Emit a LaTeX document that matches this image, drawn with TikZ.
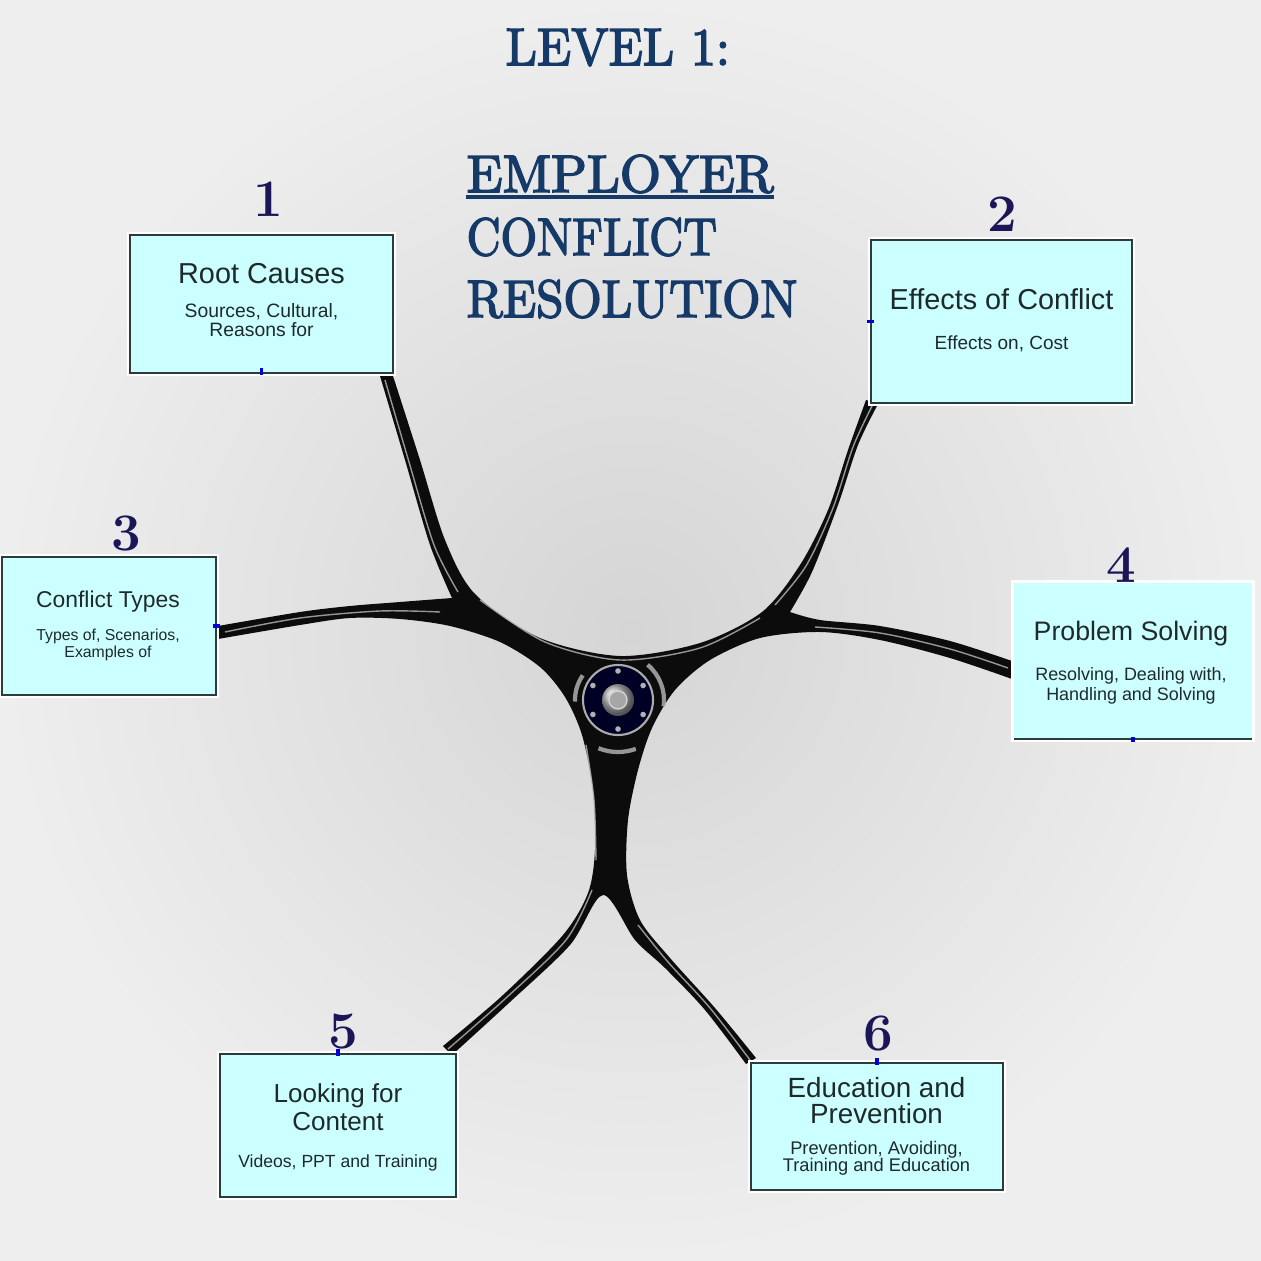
\documentclass[tikz,border=0pt]{standalone}
\usepackage{fontspec}
\usepackage{graphicx}
\newfontfamily\boxfont{Liberation Sans}
\newfontfamily\titlefont{lmroman10-regular.otf}[FakeBold=3]
\definecolor{panelfill}{HTML}{CCFFFF}
\definecolor{paneldraw}{HTML}{2E3B3B}
\definecolor{titleblue}{HTML}{163A68}
\definecolor{numnavy}{HTML}{1B1657}
\definecolor{inktext}{HTML}{1E2A2A}
\definecolor{bgin}{HTML}{D5D5D5}
\definecolor{bgout}{HTML}{EEEEEE}
\definecolor{chairblack}{HTML}{0C0C0C}
\tikzset{
  panel/.style={draw=paneldraw, line width=0.6pt, fill=panelfill, inner sep=0pt, outer sep=0pt,
    preaction={draw=white, line width=1.8pt}},
  hd/.style={anchor=base, inner sep=0pt, text=inktext, font=\boxfont\fontsize{#1}{#1}\selectfont},
  num/.style={anchor=base, inner sep=0pt, text=numnavy, font=\bfseries\fontsize{15}{15}\selectfont},
  ttl/.style={anchor=base west, inner sep=0pt, text=titleblue, font=\titlefont\fontsize{15}{15}\selectfont},
  uline/.style={draw=titleblue, line width=1pt},
  chair/.style={fill=chairblack},
  gloss/.style={draw=gray!55, line width=0.4pt, opacity=0.8},
  pin/.style={draw=blue!85!black, line width=1pt}
}
\begin{document}
\begin{tikzpicture}[x=0.01cm, y=-0.01cm]
\useasboundingbox (0,0) rectangle (1261,1261);
\shade[inner color=bgin, outer color=bgout] (0,0) rectangle (1261,1261);

% title
\node[ttl] (t1) at (505,65) {\scalebox{.95}[1]{LEVEL 1:}};
\node[ttl] (t2) at (466,192) {EMPLOYER};
\node[ttl] (t3) at (466,255) {\scalebox{.89}[1]{CONFLICT}};
\node[ttl] (t4) at (466,317) {\scalebox{.93}[1]{RESOLUTION}};
\draw[uline] ([yshift=-1.4pt]t2.base west) -- ([yshift=-1.4pt]t2.base east);

% chair base
\coordinate (hub) at (618,700);
\fill[chair] plot[smooth] coordinates {(380,376) (405,460) (430,545) (452,598)}
  -- plot[smooth] coordinates {(452,598) (400,602) (350,606) (300,612) (218,626)}
  -- plot[smooth] coordinates {(218,639) (300,625) (350,618) (400,619) (450,626) (500,642) (540,667) (565,697) (582,735) (593,790) (595,850) (588,893) (563,935) (503,995) (443,1046)}
  -- plot[smooth] coordinates {(452,1055) (510,1002) (570,945) (603,895) (635,940) (665,968) (705,1010) (746,1064)}
  -- plot[smooth] coordinates {(756,1058) (715,1008) (670,958) (640,920) (627,875) (628,820) (638,770) (652,728) (675,690) (710,660) (760,638) (820,632) (880,640) (950,658) (1012,679)}
  -- plot[smooth] coordinates {(1012,661) (950,641) (880,626) (820,620) (790,612)}
  -- plot[smooth] coordinates {(790,612) (812,572) (838,505) (858,445) (878,404)}
  -- plot[smooth] coordinates {(866,400) (848,450) (828,510) (800,565) (762,612) (700,643) (620,656) (540,638) (475,594) (445,540) (420,460) (393,376)}
  -- cycle;
\draw[gloss] plot[smooth] coordinates {(385,380) (409,462) (434,545) (458,592)};
\draw[gloss] plot[smooth] coordinates {(225,632) (300,618) (380,611) (440,612)};
\draw[gloss] plot[smooth] coordinates {(872,406) (853,447) (833,508) (806,566) (775,605)};
\draw[gloss] plot[smooth] coordinates {(1008,668) (950,649) (880,633) (815,627)};
\draw[gloss] plot[smooth] coordinates {(448,1049) (506,998) (566,940) (592,890)};
\draw[gloss] plot[smooth] coordinates {(750,1060) (710,1008) (668,962) (638,925)};
\draw[gloss] plot[smooth] coordinates {(586,745) (594,800) (596,860)};
\draw[gloss] plot[smooth] coordinates {(480,600) (545,642) (620,660) (700,648) (760,618)};
\draw[gloss, line width=1.2pt] (hub) ++(-50:46) arc[start angle=-50, end angle=8, radius=46];
\draw[gloss, line width=1.2pt] (hub) ++(70:52) arc[start angle=70, end angle=112, radius=52];
\draw[gloss, line width=1.2pt] (hub) ++(178:43) arc[start angle=178, end angle=215, radius=43];
\filldraw[fill=black!85!blue, draw=gray!65, line width=0.6pt] (hub) circle (35);
\foreach \a in {30,90,...,330}
  \fill[gray!60] (hub) ++(\a:29) circle (2.8);
\shade[ball color=gray!55] (hub) circle (16);
\filldraw[fill=gray!70, draw=gray!35] (hub) circle (9);

% panels
\node[panel, minimum width=2.63cm, minimum height=1.38cm] (b1) at (261.5,304) {};
\node[panel, minimum width=2.61cm, minimum height=1.63cm] (b2) at (1001.5,321.5) {};
\node[panel, minimum width=2.14cm, minimum height=1.38cm] (b3) at (109,626) {};
\node[panel, draw=none, minimum width=2.38cm, minimum height=1.56cm] (b4) at (1133,661) {};
\draw[draw=paneldraw, line width=0.6pt] (b4.south west) -- (b4.south east);
\node[panel, minimum width=2.36cm, minimum height=1.43cm] (b5) at (338,1125.5) {};
\node[panel, minimum width=2.52cm, minimum height=1.27cm] (b6) at (877,1126.5) {};

\draw[pin] ([yshift=1.5pt]b1.south) -- ([yshift=-0.5pt]b1.south);
\draw[pin] ([xshift=-1pt]b2.west) -- ([xshift=1pt]b2.west);
\draw[pin] ([xshift=-1pt]b3.east) -- ([xshift=1pt]b3.east);
\draw[pin] ([yshift=0.5pt]b4.south) -- ([yshift=-0.8pt]b4.south);
\draw[pin] ([yshift=1.5pt]b5.north) -- ([yshift=-0.5pt]b5.north);
\draw[pin] ([yshift=1.5pt]b6.north) -- ([yshift=-0.5pt]b6.north);

% numbers
\node[num] (n1) at (268,217) {1};
\node[num] (n2) at (1002,232) {2};
\node[num] (n3) at (126,550) {3};
\node[num] (n4) at (1121,582) {4};
\node[num] (n5) at (343,1048) {5};
\node[num] (n6) at (878,1050) {6};

% panel texts
\node[hd=8.2] (h1) at (261.5,284) {Root Causes};
\node[hd=5.5] (s1a) at (261.5,318) {Sources, Cultural,};
\node[hd=5.5] (s1b) at (261.5,337) {Reasons for};
\node[hd=8.2] (h2) at (1001.5,310) {Effects of Conflict};
\node[hd=5.4] (s2a) at (1001.5,350) {Effects on, Cost};
\node[hd=6.5] (h3) at (108,607) {Conflict Types};
\node[hd=4.5] (s3a) at (108,640) {Types of, Scenarios,};
\node[hd=4.5] (s3b) at (108,657) {Examples of};
\node[hd=7.6] (h4) at (1131,640) {Problem Solving};
\node[hd=5.1] (s4a) at (1131,680) {Resolving, Dealing with,};
\node[hd=5.1] (s4b) at (1131,700) {Handling and Solving};
\node[hd=7.4] (h5a) at (338,1102) {Looking for};
\node[hd=7.4] (h5b) at (338,1130) {Content};
\node[hd=5.0] (s5a) at (338,1167) {Videos, PPT and Training};
\node[hd=7.9] (h6a) at (876.5,1097) {Education and};
\node[hd=7.9] (h6b) at (876.5,1123) {Prevention};
\node[hd=5.2] (s6a) at (876.5,1154) {Prevention, Avoiding,};
\node[hd=5.2] (s6b) at (876.5,1171) {Training and Education};
\end{tikzpicture}
\end{document}
